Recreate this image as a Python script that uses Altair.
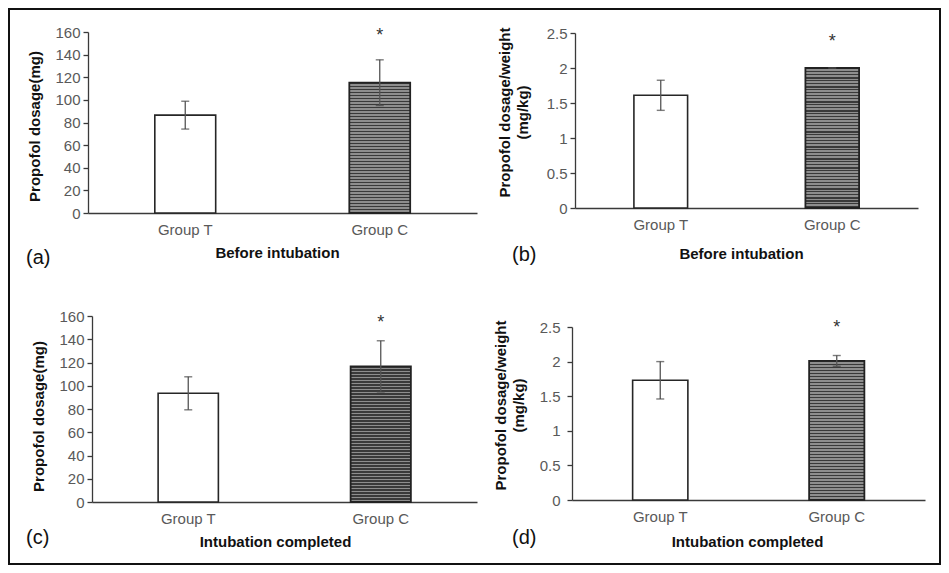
import altair as alt
import pandas as pd

groups = ["Group T", "Group C"]

# Panel (a) before intubation, dosage mg
a_mean = [86.5, 115.2]
a_err = [12.3, 20.2]
a_star = [None, 152]
# Panel (b) before intubation, dosage mg/kg
b_mean = [1.61, 2.0]
b_err = [0.215, 0.004]
b_star = [None, 2.3]
# Panel (c) intubation completed, dosage mg
c_mean = [93.5, 116.7]
c_err = [14.2, 22.0]
c_star = [None, 149.5]
# Panel (d) intubation completed, dosage mg/kg
d_mean = [1.73, 2.01]
d_err = [0.27, 0.078]
d_star = [None, 2.42]

ticks_mg = [0, 20, 40, 60, 80, 100, 120, 140, 160]
ticks_kg = [0, 0.5, 1, 1.5, 2, 2.5]

FONT = "Liberation Sans"
LABEL_C = "#595959"
AXIS_C = "#3a3a3a"


def stripes(height_px, period=3.0, dark="#3a3a3a", light="#8e8e8e"):
    # horizontal hatch with a fixed on-screen period
    stops = []
    pos = 0.0
    while pos < height_px:
        mid = min(pos + period / 2, height_px)
        end = min(pos + period, height_px)
        stops += [alt.GradientStop(offset=pos / height_px, color=dark),
                  alt.GradientStop(offset=mid / height_px, color=dark),
                  alt.GradientStop(offset=mid / height_px, color=light),
                  alt.GradientStop(offset=end / height_px, color=light)]
        pos += period
    return alt.LinearGradient(gradient="linear", stops=stops, x1=0, x2=0, y1=0, y2=1)


def panel(means, errs, stars, ymax, yvals, yfmt, ytitle, xtitle, tag, width, height,
          xrange, yrange, yoffset, ylabelpad, ytx, yty, xtx, xtp, tagpos,
          border=None):
    df = pd.DataFrame({
        "group": groups,
        "mean": means,
        "lo": [m - e for m, e in zip(means, errs)],
        "hi": [m + e for m, e in zip(means, errs)],
        "star": stars,
    })
    span = abs(yrange[0] - yrange[1])
    bar_px = means[1] / ymax * span
    xscale = alt.Scale(domain=groups, paddingInner=0.687, paddingOuter=0.3435, range=xrange)
    yscale = alt.Scale(domain=[0, ymax], nice=False, zero=True, range=yrange)
    xaxis = alt.Axis(title=xtitle, ticks=False, labelPadding=9, labelFontSize=15,
                     labelColor=LABEL_C, labelFont=FONT, labelAngle=0,
                     domainColor=AXIS_C, domainWidth=1.3,
                     titleFont=FONT, titleFontSize=15, titleFontWeight="bold",
                     titleColor="#111111", titleX=xtx, titlePadding=xtp)
    yaxis = alt.Axis(title=ytitle, values=yvals, format=yfmt, grid=False,
                     tickSize=5, tickColor=AXIS_C, tickWidth=1.3,
                     domainColor=AXIS_C, domainWidth=1.3, offset=yoffset,
                     labelPadding=ylabelpad, labelFontSize=15, labelColor=LABEL_C,
                     labelFont=FONT, titleFont=FONT, titleFontSize=15,
                     titleFontWeight="bold", titleColor="#111111",
                     titleX=ytx, titleY=yty, titleLineHeight=18)
    x = alt.X("group:N", sort=groups, scale=xscale, axis=xaxis)
    base = alt.Chart(df)
    bar_t = base.transform_filter(alt.datum.group == "Group T").mark_bar(
        fill="white", stroke="#262626", strokeWidth=1.6
    ).encode(x=x, y=alt.Y("mean:Q", scale=yscale, axis=yaxis))
    bar_c = base.transform_filter(alt.datum.group == "Group C").mark_bar(
        fill=stripes(bar_px), stroke="#222222", strokeWidth=1.8
    ).encode(x=x, y=alt.Y("mean:Q", scale=yscale, axis=yaxis))
    rule = base.mark_rule(color="#555555", strokeWidth=1.3).encode(
        x=x, y=alt.Y("lo:Q", scale=yscale, axis=yaxis), y2="hi:Q")
    cap_lo = base.mark_tick(color="#444444", size=8, thickness=1.4).encode(
        x=x, y=alt.Y("lo:Q", scale=yscale, axis=yaxis))
    cap_hi = base.mark_tick(color="#444444", size=8, thickness=1.4).encode(
        x=x, y=alt.Y("hi:Q", scale=yscale, axis=yaxis))
    star = base.transform_filter("isValid(datum.star)").mark_text(
        text="*", fontSize=18, font=FONT, color="#333333", baseline="alphabetic"
    ).encode(x=x, y=alt.Y("star:Q", scale=yscale, axis=yaxis))
    label = alt.Chart(alt.InlineData(values=[{"k": 1}])).mark_text(
        text=tag, fontSize=20, font=FONT, color="#111111", align="left", baseline="middle"
    ).encode(x=alt.value(tagpos[0]), y=alt.value(tagpos[1]))
    layers = [bar_t, bar_c, rule, cap_lo, cap_hi, star, label]
    if border is not None:
        frame = alt.Chart(alt.InlineData(values=[{"k": 1}])).mark_rect(
            fill="transparent", stroke="#111111", strokeWidth=2
        ).encode(x=alt.value(border[0]), x2=alt.value(border[1]),
                 y=alt.value(border[2]), y2=alt.value(border[3]))
        layers = [frame] + layers
    return alt.layer(*layers).properties(width=width, height=height)


pa = panel(a_mean, a_err, a_star, 160, ticks_mg, "d", "Propofol dosage(mg)", "Before intubation",
           "(a)", 389, 181, [0, 389], [181, 0], 0, 3, -46, 94, 189, 8, (-62, 226),
           border=(-79, 852, -23, 532))
pb = panel(b_mean, b_err, b_star, 2.5, ticks_kg, "~r", ["Propofol dosage/weight", "(mg/kg)"],
           "Before intubation", "(b)", 346, 176, [3, 346], [176, 1], -3, 3, -63, 80, 169, 14,
           (-60, 223))
pc = panel(c_mean, c_err, c_star, 160, ticks_mg, "d", "Propofol dosage(mg)", "Intubation completed",
           "(c)", 389, 186, [4, 389], [186, 0], -4, 3, -46, 100, 187, 8, (-62, 222))
pd_ = panel(d_mean, d_err, d_star, 2.5, ticks_kg, "~r", ["Propofol dosage/weight", "(mg/kg)"],
            "Intubation completed", "(d)", 353, 184, [0, 353], [184, 11], 0, 7, -64, 89, 175, 10,
            (-60, 222))

chart = alt.concat(pa, pb, pc, pd_, columns=2, bounds="flush", align="each",
                   spacing={"row": 103, "column": 95}).properties(
    padding=0, background="white"
).configure_view(strokeWidth=0)

chart.save("out.html", embed_options={"renderer": "svg", "actions": False})
